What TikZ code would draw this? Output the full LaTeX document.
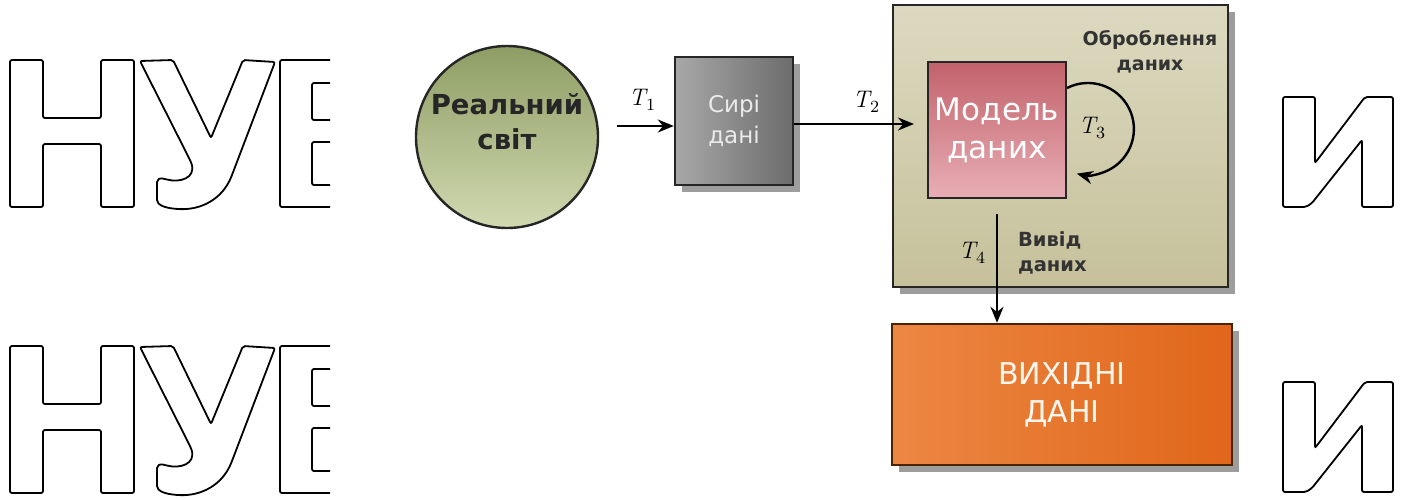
\documentclass[tikz,border=0pt]{standalone}
\usepackage{fontspec}
\setmainfont{DejaVu Sans}
\newfontfamily\lmr{Latin Modern Roman}
\usetikzlibrary{shadows,arrows.meta}
\definecolor{circTop}{HTML}{8E9D64}
\definecolor{circBot}{HTML}{D0D9B0}
\definecolor{grayL}{HTML}{A8A8A8}
\definecolor{grayR}{HTML}{6C6C6C}
\definecolor{khakiT}{HTML}{DCD9C0}
\definecolor{khakiB}{HTML}{C6C19B}
\definecolor{pinkT}{HTML}{C2626B}
\definecolor{pinkB}{HTML}{E8AEB5}
\definecolor{orangeL}{HTML}{EC8743}
\definecolor{orangeR}{HTML}{E0661A}
\definecolor{brownB}{HTML}{4A2400}
\newcommand\tlab[1]{{\lmr\itshape T}\kern0.3pt\raisebox{-2.6pt}{\lmr\fontsize{8.5pt}{9pt}\selectfont #1}}
\tikzset{
  wm/.style={draw=black, line width=0.9pt, rounded corners=1pt},
  arr/.style={line width=1.2pt, -{Stealth[length=8pt,width=6.5pt]}},
  lbl/.style={font=\fontsize{12pt}{13pt}\selectfont, inner sep=0pt, text=black},
  shad/.style={drop shadow={shadow xshift=3.5pt, shadow yshift=-3.5pt, opacity=0.55, fill=black!70}},
  circ/.style={circle, draw=black!85, line width=1.2pt, minimum size=91pt, inner sep=0pt, top color=circTop, bottom color=circBot},
  graybox/.style={rectangle, draw=black!85, line width=1.2pt, minimum width=59pt, minimum height=64pt, left color=grayL, right color=grayR, shad},
  bigbox/.style={rectangle, draw=black!85, line width=1.2pt, minimum width=167.5pt, minimum height=141pt, top color=khakiT, bottom color=khakiB, shad},
  modelbox/.style={rectangle, draw=black!85, line width=1.2pt, minimum width=65pt, minimum height=68pt, top color=pinkT, bottom color=pinkB},
  outbox/.style={rectangle, draw=brownB, line width=1.2pt, minimum width=170pt, minimum height=70.5pt, left color=orangeL, right color=orangeR, shad},
  wmH/.pic={
    \draw[wm] (10,60) -- (43,60) -- (43,118) -- (101,118) -- (101,60) -- (134,60) -- (134,207) -- (101,207) -- (101,144) -- (43,144) -- (43,207) -- (10,207) -- cycle;
    \draw[wm] (140,61) -- (173,60) -- (211,138) -- (243,60) -- (275,62) -- (232,175) .. controls (222,200) and (200,210) .. (178,209) .. controls (165,208) and (157,205) .. (157,198) -- (157,184) .. controls (157,179) and (160,178) .. (165,179) .. controls (180,183) and (196,178) .. (191,162) -- cycle;
    \draw[wm] (330,60) -- (280,60) -- (280,207) -- (330,207);
    \draw[wm] (330,83) -- (312,83) -- (312,120) -- (330,120);
    \draw[wm] (330,142) -- (312,142) -- (312,185) -- (330,185);
  },
  wmI/.pic={
    \draw[wm] (1283,97) -- (1315,97) -- (1315,163) -- (1365,97) -- (1393,97) -- (1393,207) -- (1362,207) -- (1362,140) -- (1312,203) -- (1306,207) -- (1283,207) -- cycle;
  }
}
\begin{document}
\begin{tikzpicture}[x=0.5pt,y=-0.5pt]
\useasboundingbox (0,0) rectangle (1419,499);
% watermark letters
\pic at (0,0) {wmH};
\pic at (0,286) {wmH};
\pic at (0,0) {wmI};
\pic at (0,285) {wmI};

% nodes
\node[circ] (c) at (507,137) {};
\node[font=\bfseries\fontsize{13.75pt}{17.5pt}\selectfont, align=center, text=black!85] (ct) at (507,122) {Реальний\\світ};

\node[graybox, font=\fontsize{11.5pt}{15.5pt}\selectfont, align=center, text=white!92!black] (g) at (734,121) {Сирі\\дані};

\node[bigbox] (p) at (1060.5,146) {};
\node[font=\bfseries\fontsize{9.5pt}{12.5pt}\selectfont, align=center, text=black!80] (pt) at (1150,52) {Оброблення\\даних};

\node[modelbox, font=\fontsize{15.5pt}{19pt}\selectfont, align=center, text=white] (m) at (997,130) {Модель\\даних};

\node[outbox, font=\fontsize{15pt}{19pt}\selectfont, align=center, text=white!94!orange] (o) at (1062,394.5) {ВИХІДНІ\\ДАНІ};

\node[font=\bfseries\fontsize{9.75pt}{12.5pt}\selectfont, align=left, anchor=west, text=black!80] (vd) at (1011,253) {Вивід\\даних};

% connectors
\coordinate (a1) at (0,126);
\coordinate (a2) at (0,124);
\draw[arr] ([xshift=9pt]c.east |- a1) -- (g.west |- a1);
\draw[arr] (g.east |- a2) -- ([xshift=-6.5pt]m.west |- a2);
\draw[arr] ([shift={(0,-42)}]m.east) arc[start angle=-117, end angle=104, radius=46];
\draw[arr] ([shift={(0,15)}]m.south) -- (m.south |- o.north);

% labels
\node[lbl] (t1) at (642,100) {\tlab{1}};
\node[lbl] (t2) at (866,102) {\tlab{2}};
\node[lbl] (t3) at (1092,128) {\tlab{3}};
\node[lbl] (t4) at (972,253) {\tlab{4}};
\end{tikzpicture}
\end{document}
